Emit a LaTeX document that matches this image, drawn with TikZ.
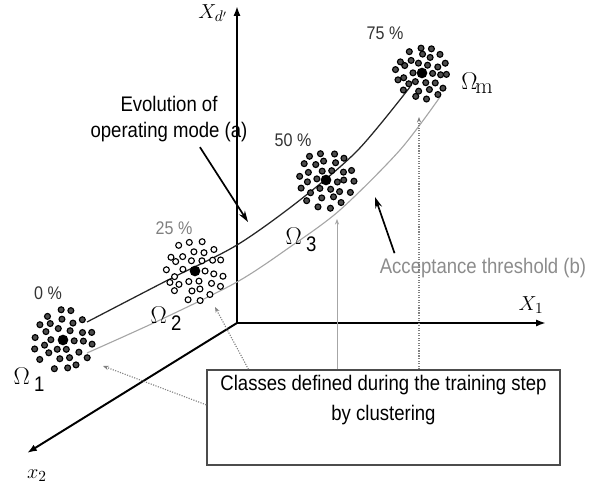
\documentclass[tikz,border=0pt]{standalone}
\usepackage{fontspec}
\setmainfont{Liberation Sans}[FakeStretch=0.88]
\usetikzlibrary{arrows.meta,positioning}

\tikzset{
  axis/.style={line width=1.4pt, -{Latex[length=7pt,width=5pt]}},
  dot/.style={line width=0.8pt, draw=black},
  pointer/.style={line width=1.2pt, -{Stealth[length=8pt,width=5pt]}},
  hint/.style={gray, densely dotted, line width=0.8pt, -{Stealth[length=4pt,width=3pt]}},
  lbl/.style={font=\fontsize{15}{19}\selectfont},
  pct/.style={font=\fontsize{13}{15}\selectfont, text=gray!40!black},
  omega/.style={font=\fontsize{18}{18}\selectfont, inner sep=0pt},
  axlab/.style={font=\fontsize{15}{15}\selectfont, inner sep=1pt},
}

% one class: rings of small circles round a black centre
\newcommand{\drawcluster}[5]{% name, x, y, fill, size
  \coordinate (#1) at (#2,#3);
  \begin{scope}[shift={(#1)}]
    \foreach \n/\r in {6/11,11/20,14/29}{
      \foreach \k in {1,...,\n}{
        \pgfmathsetmacro{\ang}{360*\k/\n+rnd*12}
        \pgfmathsetmacro{\rr}{#5*(\r+rnd*3-1.5)}
        \draw[dot, fill=#4] (\ang:\rr) circle (2.1pt);
      }
    }
    \fill (0,0) circle (3.8pt);
  \end{scope}}

\begin{document}
\begin{tikzpicture}[x=0.025cm, y=-0.025cm]
\useasboundingbox (0,0) rectangle (600,490);
\pgfmathsetseed{7}

% axes
\coordinate (O) at (237,323);
\coordinate (xd) at (237,6);
\coordinate (x1) at (546,323);
\coordinate (x2) at (27,453);
\draw[axis] (O) -- (xd);
\draw[axis] (O) -- (x1);
\draw[axis] (O) -- (x2);
\node[axlab] (xdlab) at (213,13) {$X_{d'}$};
\node[axlab] (x1lab) at (531,305) {$X_1$};
\node[axlab] (x2lab) at (37,476) {$x_2$};

% evolution curve (a) and acceptance threshold (b)
\draw[gray!30!black, line width=0.9pt] plot[smooth] coordinates {(87,322) (168,280) (237,245) (300,200) (358,150) (410,87)};
\draw[gray!70, line width=0.8pt] plot[smooth] coordinates {(87,353) (160,320) (237,282) (290,247) (340,210) (400,150) (440,97)};

% classes
\drawcluster{om1c}{63}{340}{gray!60!black}{1}
\drawcluster{om2c}{195}{271}{white}{1}
\drawcluster{om3c}{326}{180}{gray!60!black}{0.95}
\drawcluster{ommc}{422}{73}{gray!60!black}{0.88}

% class names and percentages
\node[omega] (om1) at (29,380) {$\Omega$\,\raisebox{-5pt}{\fontsize{15}{15}\selectfont 1}};
\node[omega] (om2) at (166,319) {$\Omega$\,\raisebox{-5pt}{\fontsize{15}{15}\selectfont 2}};
\node[omega] (om3) at (301,240) {$\Omega$\,\raisebox{-5pt}{\fontsize{15}{15}\selectfont 3}};
\node[omega] (omm) at (477,83) {$\Omega$\kern-1.5pt\raisebox{-3pt}{\fontfamily{lmr}\fontsize{16}{16}\selectfont m}};
\node[pct] (p0) at (48,293) {0 \%};
\node[pct, text=gray] (p25) at (174,228) {25 \%};
\node[pct] (p50) at (293,140) {50 \%};
\node[pct] (p75) at (385,33) {75 \%};

% labels with arrows
\node[lbl, align=center] (evo) at (169,119) {Evolution of\\operating mode (a)};
\coordinate (evotip) at (248,222);
\draw[pointer] ([xshift=22pt]evo.south) -- (evotip);
\node[lbl, text=gray!90] (acc) at (483,268) {Acceptance threshold (b)};
\coordinate (acctip) at (375,197);
\draw[pointer] ([xshift=14pt]acc.north west) -- (acctip);

% box of the classes
\node[draw=gray!60!black, line width=1pt, minimum width=8.825cm, minimum height=2.375cm] (box) at (383.5,417.5) {};
\node[lbl, align=center, below=1pt of box.north] (boxtext) {Classes defined during the training step\\[2pt]by clustering};

\coordinate (t1) at (103,366);
\coordinate (t2) at (215,307);
\coordinate (t3) at (337,219);
\coordinate (tm) at (419,117);
\draw[hint] ([yshift=9pt]box.west) -- (t1);
\draw[hint] ([xshift=30pt]box.north west) -- (t2);
\draw[hint, gray!70, solid, line width=0.6pt] (t3 |- box.north) -- (t3);
\draw[hint] (tm |- box.north) -- (tm);

\end{tikzpicture}
\end{document}
